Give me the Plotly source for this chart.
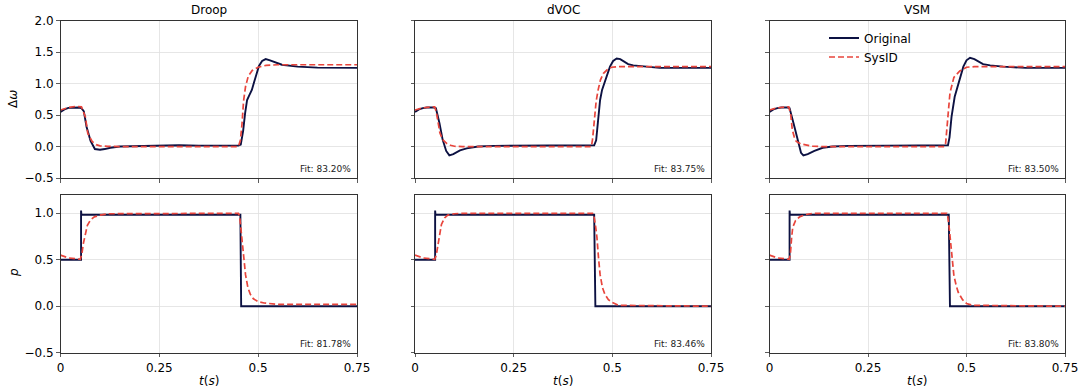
import plotly.graph_objects as go

# ---------------- data ----------------
titles = ["Droop", "dVOC", "VSM"]
fit_w = ["Fit: 83.20%", "Fit: 83.75%", "Fit: 83.50%"]
fit_p = ["Fit: 81.78%", "Fit: 83.46%", "Fit: 83.80%"]

x_ticks = [0, 0.25, 0.5, 0.75]
x_ticklabels = ["0", "0.25", "0.5", "0.75"]
w_ticks = [-0.5, 0.0, 0.5, 1.0, 1.5, 2.0]
w_ticklabels = ["\u22120.5", "0.0", "0.5", "1.0", "1.5", "2.0"]
p_ticks = [-0.5, 0.0, 0.5, 1.0]
p_ticklabels = ["\u22120.5", "0.0", "0.5", "1.0"]

# Droop  - delta omega
droop_w_orig_t = [0, 0.01, 0.02, 0.03, 0.045, 0.053, 0.059, 0.066, 0.076, 0.087, 0.1, 0.112, 0.126, 0.15,
                  0.2, 0.25, 0.3, 0.35, 0.4, 0.45, 0.456, 0.462, 0.467, 0.472, 0.478, 0.484, 0.49, 0.496,
                  0.502, 0.51, 0.519, 0.53, 0.545, 0.56, 0.6, 0.65, 0.75]
droop_w_orig_y = [0.55, 0.59, 0.615, 0.62, 0.62, 0.61, 0.56, 0.31, 0.09, -0.04, -0.05, -0.04, -0.02, 0.0,
                  0.01, 0.015, 0.02, 0.015, 0.015, 0.015, 0.03, 0.25, 0.53, 0.74, 0.82, 0.9, 1.03, 1.17,
                  1.28, 1.36, 1.39, 1.37, 1.33, 1.3, 1.27, 1.255, 1.25]
droop_w_sys_t = [0, 0.02, 0.04, 0.053, 0.058, 0.063, 0.069, 0.08, 0.09, 0.1, 0.12, 0.15, 0.45, 0.455, 0.459,
                 0.463, 0.468, 0.475, 0.485, 0.5, 0.52, 0.55, 0.75]
droop_w_sys_y = [0.58, 0.62, 0.64, 0.63, 0.55, 0.47, 0.21, 0.08, 0.03, 0.01, 0.004, 0.0, 0.0, 0.1, 0.35,
                 0.72, 0.95, 1.12, 1.21, 1.26, 1.29, 1.3, 1.3]

# dVOC - delta omega
dvoc_w_orig_t = [0, 0.01, 0.02, 0.03, 0.048, 0.053, 0.062, 0.07, 0.079, 0.087, 0.097, 0.114, 0.131, 0.16,
                 0.2, 0.3, 0.4, 0.45, 0.454, 0.459, 0.464, 0.469, 0.474, 0.479, 0.486, 0.494, 0.502, 0.511,
                 0.52, 0.53, 0.54, 0.553, 0.58, 0.62, 0.75]
dvoc_w_orig_y = [0.55, 0.59, 0.61, 0.62, 0.62, 0.61, 0.37, 0.11, -0.07, -0.14, -0.12, -0.06, -0.03, 0.0,
                 0.01, 0.015, 0.015, 0.018, 0.02, 0.1, 0.4, 0.74, 0.9, 1.0, 1.15, 1.27, 1.36, 1.4,
                 1.39, 1.35, 1.31, 1.29, 1.27, 1.25, 1.25]
dvoc_w_sys_t = [0, 0.02, 0.04, 0.05, 0.054, 0.058, 0.063, 0.07, 0.08, 0.09, 0.1, 0.12, 0.447, 0.45, 0.454,
                0.459, 0.464, 0.47, 0.477, 0.487, 0.498, 0.52, 0.75]
dvoc_w_sys_y = [0.58, 0.615, 0.63, 0.63, 0.55, 0.4, 0.22, 0.11, 0.05, 0.02, 0.005, 0.0, 0.0, 0.12, 0.45,
                0.72, 0.9, 1.06, 1.16, 1.22, 1.26, 1.27, 1.27]

# VSM - delta omega
vsm_w_orig_t = [0, 0.01, 0.02, 0.03, 0.046, 0.051, 0.061, 0.072, 0.08, 0.086, 0.097, 0.114, 0.135, 0.16,
                0.2, 0.3, 0.4, 0.448, 0.453, 0.457, 0.462, 0.47, 0.479, 0.486, 0.492, 0.5, 0.509, 0.52,
                0.53, 0.542, 0.56, 0.593, 0.65, 0.75]
vsm_w_orig_y = [0.55, 0.59, 0.61, 0.62, 0.62, 0.61, 0.37, 0.11, -0.1, -0.14, -0.12, -0.07, -0.02, 0.0,
                0.01, 0.015, 0.015, 0.015, 0.02, 0.15, 0.47, 0.79, 1.0, 1.15, 1.27, 1.37, 1.41, 1.39,
                1.35, 1.31, 1.29, 1.27, 1.25, 1.25]
vsm_w_sys_t = [0, 0.02, 0.04, 0.049, 0.054, 0.058, 0.063, 0.068, 0.08, 0.094, 0.11, 0.13, 0.445, 0.447,
               0.452, 0.458, 0.468, 0.483, 0.5, 0.52, 0.75]
vsm_w_sys_y = [0.58, 0.615, 0.63, 0.63, 0.5, 0.26, 0.15, 0.08, 0.04, 0.02, 0.005, 0.0, 0.0, 0.05,
               0.47, 0.85, 1.1, 1.2, 1.26, 1.27, 1.27]

# Droop - p
droop_p_orig_t = [0, 0.052, 0.052, 0.0528, 0.455, 0.457, 0.75]
droop_p_orig_y = [0.5, 0.5, 1.03, 0.985, 0.985, 0.0, 0.0]
droop_p_sys_t = [0, 0.02, 0.05, 0.054, 0.058, 0.063, 0.068, 0.076, 0.085, 0.1, 0.12, 0.45, 0.453, 0.456,
                 0.46, 0.464, 0.468, 0.474, 0.48, 0.488, 0.5, 0.515, 0.55, 0.75]
droop_p_sys_y = [0.55, 0.52, 0.505, 0.56, 0.68, 0.79, 0.87, 0.93, 0.96, 0.98, 0.995, 1.0, 0.97, 0.85,
                 0.65, 0.48, 0.34, 0.2, 0.13, 0.08, 0.05, 0.035, 0.02, 0.02]

# dVOC - p
dvoc_p_orig_t = [0, 0.051, 0.051, 0.0518, 0.454, 0.457, 0.75]
dvoc_p_orig_y = [0.5, 0.5, 1.03, 0.985, 0.985, 0.0, 0.0]
dvoc_p_sys_t = [0, 0.02, 0.05, 0.054, 0.059, 0.067, 0.075, 0.083, 0.1, 0.12, 0.45, 0.453, 0.457, 0.461,
                0.465, 0.469, 0.475, 0.481, 0.49, 0.5, 0.515, 0.75]
dvoc_p_sys_y = [0.55, 0.52, 0.505, 0.55, 0.68, 0.88, 0.95, 0.98, 0.995, 1.0, 1.0, 0.98, 0.88, 0.74,
                0.52, 0.34, 0.2, 0.13, 0.07, 0.04, 0.01, 0.0]

# VSM - p
vsm_p_orig_t = [0, 0.051, 0.051, 0.0518, 0.455, 0.458, 0.75]
vsm_p_orig_y = [0.5, 0.5, 1.03, 0.985, 0.985, 0.0, 0.0]
vsm_p_sys_t = [0, 0.02, 0.05, 0.053, 0.056, 0.059, 0.066, 0.076, 0.09, 0.11, 0.45, 0.452, 0.456, 0.46,
               0.464, 0.468, 0.474, 0.479, 0.49, 0.5, 0.515, 0.75]
vsm_p_sys_y = [0.55, 0.52, 0.505, 0.56, 0.73, 0.85, 0.92, 0.96, 0.985, 1.0, 1.0, 0.98, 0.85, 0.69,
               0.5, 0.33, 0.22, 0.15, 0.07, 0.03, 0.01, 0.0]

w_orig = [(droop_w_orig_t, droop_w_orig_y), (dvoc_w_orig_t, dvoc_w_orig_y), (vsm_w_orig_t, vsm_w_orig_y)]
w_sys = [(droop_w_sys_t, droop_w_sys_y), (dvoc_w_sys_t, dvoc_w_sys_y), (vsm_w_sys_t, vsm_w_sys_y)]
p_orig = [(droop_p_orig_t, droop_p_orig_y), (dvoc_p_orig_t, dvoc_p_orig_y), (vsm_p_orig_t, vsm_p_orig_y)]
p_sys = [(droop_p_sys_t, droop_p_sys_y), (dvoc_p_sys_t, dvoc_p_sys_y), (vsm_p_sys_t, vsm_p_sys_y)]

# ---------------- styling / layout ----------------
W, H = 1086, 392
NAVY = "#0c1142"
RED = "#e8453c"
FRAME = "#333333"
GRID = "#e0e0e0"
FONT = "DejaVu Sans"
FS = 12

col_px = [(60.5, 357), (415, 711), (769.5, 1065)]
row_px = [(20.7, 178), (194.7, 352.7)]  # top, bottom (pixels from top)


def xdom(c):
    return [col_px[c][0] / W, col_px[c][1] / W]


def ydom(r):
    return [1 - row_px[r][1] / H, 1 - row_px[r][0] / H]


fig = go.Figure()
layout = dict(
    width=W, height=H, margin=dict(l=0, r=0, t=0, b=0, autoexpand=False),
    paper_bgcolor="white", plot_bgcolor="white",
    font=dict(family=FONT, size=FS, color="black"),
    showlegend=True,
    legend=dict(x=824 / W, y=1 - 23.5 / H, xanchor="left", yanchor="top",
                bgcolor="rgba(255,255,255,0)", font=dict(size=FS, family=FONT),
                tracegroupgap=0, itemwidth=30),
)

annotations = []
idx = 0
for r in range(2):
    for c in range(3):
        idx += 1
        xa = "x" if idx == 1 else f"x{idx}"
        ya = "y" if idx == 1 else f"y{idx}"
        xkey = "xaxis" if idx == 1 else f"xaxis{idx}"
        ykey = "yaxis" if idx == 1 else f"yaxis{idx}"
        orig = w_orig[c] if r == 0 else p_orig[c]
        sysd = w_sys[c] if r == 0 else p_sys[c]
        fig.add_trace(go.Scatter(x=orig[0], y=orig[1], mode="lines", name="Original",
                                 line=dict(color=NAVY, width=1.9), xaxis=xa, yaxis=ya,
                                 showlegend=(idx == 3), legendgroup="o"))
        fig.add_trace(go.Scatter(x=sysd[0], y=sysd[1], mode="lines", name="SysID",
                                 line=dict(color=RED, width=1.7, dash="6px,3px"), xaxis=xa, yaxis=ya,
                                 showlegend=(idx == 3), legendgroup="s"))
        layout[xkey] = dict(
            domain=xdom(c), anchor=ya, range=[0, 0.75], tickmode="array",
            tickvals=x_ticks, ticktext=x_ticklabels, showticklabels=(r == 1),
            ticks="outside", ticklen=3.5, tickwidth=0.8, tickcolor=FRAME,
            showline=True, mirror=True, linecolor=FRAME, linewidth=1,
            showgrid=True, gridcolor=GRID, gridwidth=0.8, zeroline=False,
            tickfont=dict(size=FS, family=FONT), automargin=False,
        )
        layout[ykey] = dict(
            domain=ydom(r), anchor=xa,
            range=[-0.5, 2.0] if r == 0 else [-0.5, 1.2], tickmode="array",
            tickvals=w_ticks if r == 0 else p_ticks,
            ticktext=w_ticklabels if r == 0 else p_ticklabels,
            showticklabels=(c == 0),
            ticks="outside", ticklen=3.5, tickwidth=0.8, tickcolor=FRAME,
            showline=True, mirror=True, linecolor=FRAME, linewidth=1,
            showgrid=True, gridcolor=GRID, gridwidth=0.8, zeroline=False,
            tickfont=dict(size=FS, family=FONT), automargin=False,
        )
        # fit text
        annotations.append(dict(
            text=(fit_w if r == 0 else fit_p)[c], xref=f"{xa} domain", yref=f"{ya} domain",
            x=0.985, y=0.01, xanchor="right", yanchor="bottom", showarrow=False,
            font=dict(size=9, family=FONT, color="#222222")))
        if r == 0:
            annotations.append(dict(
                text=titles[c], xref="paper", yref="paper",
                x=(col_px[c][0] + col_px[c][1]) / 2 / W, y=1 - 9.5 / H,
                xanchor="center", yanchor="middle", showarrow=False,
                font=dict(size=FS, family=FONT)))
        else:
            annotations.append(dict(
                text="<i>t</i>(<i>s</i>)", xref="paper", yref="paper",
                x=(col_px[c][0] + col_px[c][1]) / 2 / W, y=1 - 381 / H,
                xanchor="center", yanchor="middle", showarrow=False,
                font=dict(size=FS, family=FONT)))

annotations.append(dict(text="\u0394<i>\u03c9</i>", xref="paper", yref="paper",
                        x=13 / W, y=1 - 99 / H, textangle=-90, xanchor="center", yanchor="middle",
                        showarrow=False, font=dict(size=FS, family=FONT)))
annotations.append(dict(text="<i>p</i>", xref="paper", yref="paper",
                        x=14 / W, y=1 - 273 / H, textangle=-90, xanchor="center", yanchor="middle",
                        showarrow=False, font=dict(size=FS, family=FONT)))
layout["annotations"] = annotations
fig.update_layout(**layout)
fig.write_html(
    "out.html",
    config={"displayModeBar": False, "staticPlot": True},
    post_script="document.body.style.margin='0';document.body.style.padding='0';"
                "document.body.style.overflow='hidden';",
)
